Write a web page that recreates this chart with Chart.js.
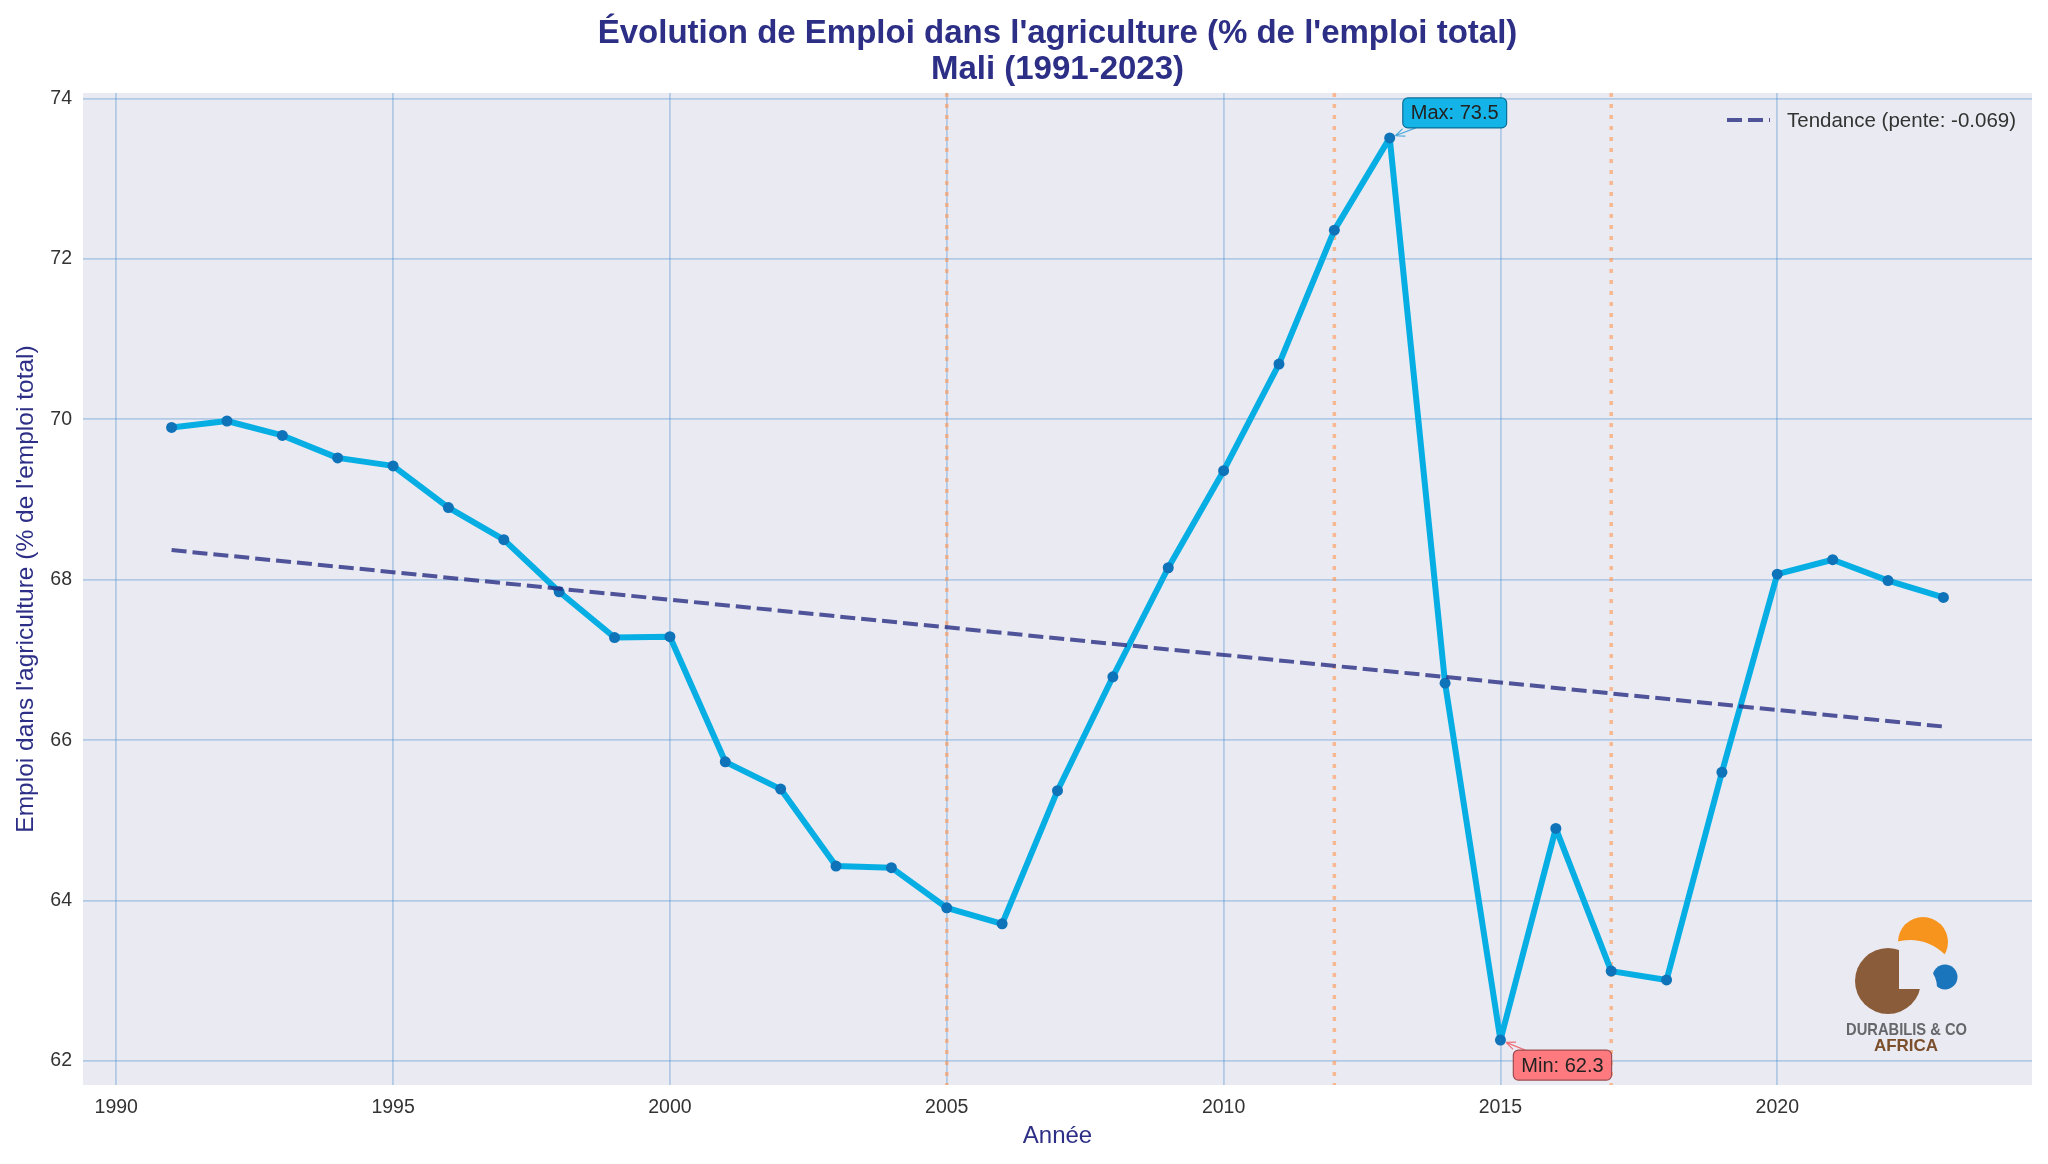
<!DOCTYPE html>
<html>
<head>
<meta charset="utf-8">
<script src="https://cdn.jsdelivr.net/npm/chart.js@4.4.0/dist/chart.umd.min.js"></script>
<style>
  html, body { margin: 0; padding: 0; background: #fff; }
  #chart { display: block; }
</style>
</head>
<body>
<canvas id="chart" width="2048" height="1164"></canvas>
<script>
// Data
const years = [1991, 1992, 1993, 1994, 1995, 1996, 1997, 1998, 1999, 2000,
  2001, 2002, 2003, 2004, 2005, 2006, 2007, 2008, 2009, 2010,
  2011, 2012, 2013, 2014, 2015, 2016, 2017, 2018, 2019, 2020,
  2021, 2022, 2023];
const values = [69.90, 69.98, 69.80, 69.52, 69.42, 68.90, 68.50, 67.85, 67.28, 67.29,
  65.73, 65.39, 64.43, 64.41, 63.91, 63.71, 65.37, 66.79, 68.15, 69.36,
  70.69, 72.36, 73.51, 66.71, 62.26, 64.90, 63.12, 63.01, 65.60, 68.07,
  68.25, 67.99, 67.78];
const trendYears = [1991, 2023];
const trendValues = [68.37, 66.17];
const eventYears = [2005, 2012, 2017];
const xTicks = [1990, 1995, 2000, 2005, 2010, 2015, 2020];
const yTicks = [62, 64, 66, 68, 70, 72, 74];
const titleLines = ["Évolution de Emploi dans l'agriculture (% de l'emploi total)", "Mali (1991-2023)"];
const xTitle = "Année";
const yTitle = "Emploi dans l'agriculture (% de l'emploi total)";
const trendLabel = "Tendance (pente: -0.069)";

const FONT = "'Liberation Sans', Arial, sans-serif";
const navy = "#2d2f86";
const gridColor = "rgba(60,135,205,0.32)";

Chart.defaults.font.family = FONT;

const ctx = document.getElementById("chart").getContext("2d");

//Helper functions
const toPoints = (xs, ys) => xs.map((x, i) => ({ x: x, y: ys[i] }));

const drawNote = (c, px, py, dx, dy, text, fill, stroke, arrowColor) => {
  c.save();
  c.font = "20px " + FONT;
  const w = c.measureText(text).width + 16;
  const h = 30;
  const cx = px + dx;
  const cy = py + dy;
  // arrow from box edge to point
  const vx = px - cx;
  const vy = py - cy;
  const t = Math.min((w / 2) / Math.abs(vx), (h / 2) / Math.abs(vy));
  const sx = cx + vx * t;
  const sy = cy + vy * t;
  const len = Math.hypot(px - sx, py - sy);
  const ex = px - (px - sx) / len * 6;
  const ey = py - (py - sy) / len * 6;
  c.strokeStyle = arrowColor;
  c.lineWidth = 1.2;
  c.beginPath();
  c.moveTo(sx, sy);
  c.lineTo(ex, ey);
  const ang = Math.atan2(ey - sy, ex - sx);
  for (const a of [ang + Math.PI - 0.4, ang + Math.PI + 0.4]) {
    c.moveTo(ex, ey);
    c.lineTo(ex + Math.cos(a) * 10, ey + Math.sin(a) * 10);
  }
  c.stroke();
  // box
  c.beginPath();
  c.roundRect(cx - w / 2, cy - h / 2, w, h, 5);
  c.fillStyle = fill;
  c.fill();
  c.strokeStyle = stroke;
  c.lineWidth = 1.2;
  c.stroke();
  c.fillStyle = "#222";
  c.textAlign = "center";
  c.textBaseline = "middle";
  c.fillText(text, cx, cy + 1);
  c.restore();
};

const drawLogo = (c, ox, oy) => {
  c.save();
  // brown circle with top-right quarter cut
  c.save();
  c.beginPath();
  c.rect(ox - 100, oy - 100, 200, 200);
  c.rect(ox + 11, oy - 100, 89, 108);
  c.clip("evenodd");
  c.beginPath();
  c.arc(ox, oy, 33, 0, Math.PI * 2);
  c.fillStyle = "#8a5c3a";
  c.fill();
  c.restore();
  // orange piece
  c.save();
  c.beginPath();
  c.rect(ox - 100, oy - 150, 250, 250);
  c.arc(ox + 22, oy + 8, 49, 0, Math.PI * 2);
  c.clip("evenodd");
  c.beginPath();
  c.arc(ox + 35, oy - 39, 25, 0, Math.PI * 2);
  c.fillStyle = "#f7941d";
  c.fill();
  c.restore();
  // blue piece
  c.save();
  c.beginPath();
  c.rect(ox - 100, oy - 150, 250, 250);
  c.arc(ox + 24, oy + 6, 25, 0, Math.PI * 2);
  c.clip("evenodd");
  c.beginPath();
  c.arc(ox + 57, oy - 4, 12.5, 0, Math.PI * 2);
  c.fillStyle = "#1b75bc";
  c.fill();
  c.restore();
  // text
  c.textAlign = "center";
  c.textBaseline = "middle";
  c.font = "bold 17px " + FONT;
  c.fillStyle = "#66676b";
  c.fillText("DURABILIS & CO", ox + 18.5, oy + 49, 121);
  c.fillStyle = "#7b4f2c";
  c.font = "bold 17px " + FONT;
  c.fillText("AFRICA", ox + 18, oy + 65);
  c.restore();
};

//Plugins
const plotBg = {
  id: "plotBg",
  beforeDraw(chart) {
    const a = chart.chartArea;
    const c = chart.ctx;
    c.save();
    c.fillStyle = "#eaeaf2";
    c.fillRect(a.left, a.top, a.right - a.left, a.bottom - a.top);
    c.restore();
  },
};

const eventLines = {
  id: "eventLines",
  beforeDatasetsDraw(chart) {
    const a = chart.chartArea;
    const c = chart.ctx;
    const xs = chart.scales.x;
    c.save();
    c.strokeStyle = "rgba(255,150,80,0.6)";
    c.lineWidth = 3.5;
    c.setLineDash([4, 7]);
    eventYears.forEach((yr) => {
      const px = xs.getPixelForValue(yr);
      c.beginPath();
      c.moveTo(px, a.top);
      c.lineTo(px, a.bottom);
      c.stroke();
    });
    c.restore();
  },
};

const extras = {
  id: "extras",
  afterDraw(chart) {
    const a = chart.chartArea;
    const c = chart.ctx;
    const xs = chart.scales.x;
    const ys = chart.scales.y;
    // title, centred on the plot area
    c.save();
    c.fillStyle = navy;
    c.font = "bold 33px " + FONT;
    c.textAlign = "center";
    c.textBaseline = "middle";
    const midX = (a.left + a.right) / 2;
    titleLines.forEach((line, i) => c.fillText(line, midX, 34 + i * 36));
    c.restore();
    // max / min notes
    const maxV = Math.max(...values);
    const minV = Math.min(...values);
    const iMax = values.indexOf(maxV);
    const iMin = values.indexOf(minV);
    drawNote(c, xs.getPixelForValue(years[iMax]), ys.getPixelForValue(maxV), 65, -25,
      "Max: " + maxV.toFixed(1), "#14b4e8", "#0a6f96", "#4aa8dc");
    drawNote(c, xs.getPixelForValue(years[iMin]), ys.getPixelForValue(minV), 62, 25,
      "Min: " + minV.toFixed(1), "#ff7a7f", "#9a4c50", "#f07078");
    // legend
    c.save();
    c.strokeStyle = "rgba(40,45,130,0.8)";
    c.lineWidth = 4;
    c.setLineDash([15, 6]);
    c.beginPath();
    c.moveTo(a.right - 305, a.top + 27);
    c.lineTo(a.right - 262, a.top + 27);
    c.stroke();
    c.setLineDash([]);
    c.fillStyle = "#333";
    c.font = "20.5px " + FONT;
    c.textBaseline = "middle";
    c.fillText(trendLabel, a.right - 245, a.top + 28);
    c.restore();
    // logo
    drawLogo(c, a.right - 144, a.bottom - 104);
  },
};

//Chart
const myChart = new Chart(ctx, {
  type: "line",
  data: {
    datasets: [
      {
        label: "Emploi",
        data: toPoints(years, values),
        borderColor: "#06aee4",
        borderWidth: 6,
        borderJoinStyle: "round",
        borderCapStyle: "round",
        pointRadius: 5.5,
        pointBorderWidth: 0,
        pointBackgroundColor: "#0f73b9",
        tension: 0,
        order: 2,
      },
      {
        label: trendLabel,
        data: toPoints(trendYears, trendValues),
        borderColor: "rgba(40,45,130,0.8)",
        borderWidth: 4,
        borderDash: [15, 6],
        pointRadius: 0,
        order: 1,
      },
    ],
  },
  options: {
    responsive: false,
    animation: false,
    devicePixelRatio: 1,
    layout: { padding: { top: 93, left: 0, right: 16, bottom: 0 } },
    scales: {
      x: {
        type: "linear",
        min: 1989.4,
        max: 2024.6,
        afterBuildTicks: (s) => { s.ticks = xTicks.map((v) => ({ value: v })); },
        afterFit: (s) => { s.height = 79; },
        grid: { color: gridColor, lineWidth: 1.8, drawTicks: false },
        border: { display: false },
        ticks: { padding: 11, color: "#333", font: { size: 19.5 }, callback: (v) => String(v) },
        title: { display: true, text: xTitle, color: navy, font: { size: 24 }, padding: { top: 0, bottom: 13 } },
      },
      y: {
        min: 61.7,
        max: 74.07,
        afterBuildTicks: (s) => { s.ticks = yTicks.map((v) => ({ value: v })); },
        afterFit: (s) => { s.width = 83; },
        grid: { color: gridColor, lineWidth: 1.8, drawTicks: false },
        border: { display: false },
        ticks: { padding: 11, color: "#333", font: { size: 19.5 } },
        title: { display: true, text: yTitle, color: navy, font: { size: 24.5 }, padding: { top: 12, bottom: 0 } },
      },
    },
    plugins: {
      legend: { display: false },
      tooltip: { enabled: false },
      title: { display: false },
    },
  },
  plugins: [plotBg, eventLines, extras],
});
</script>
</body>
</html>
